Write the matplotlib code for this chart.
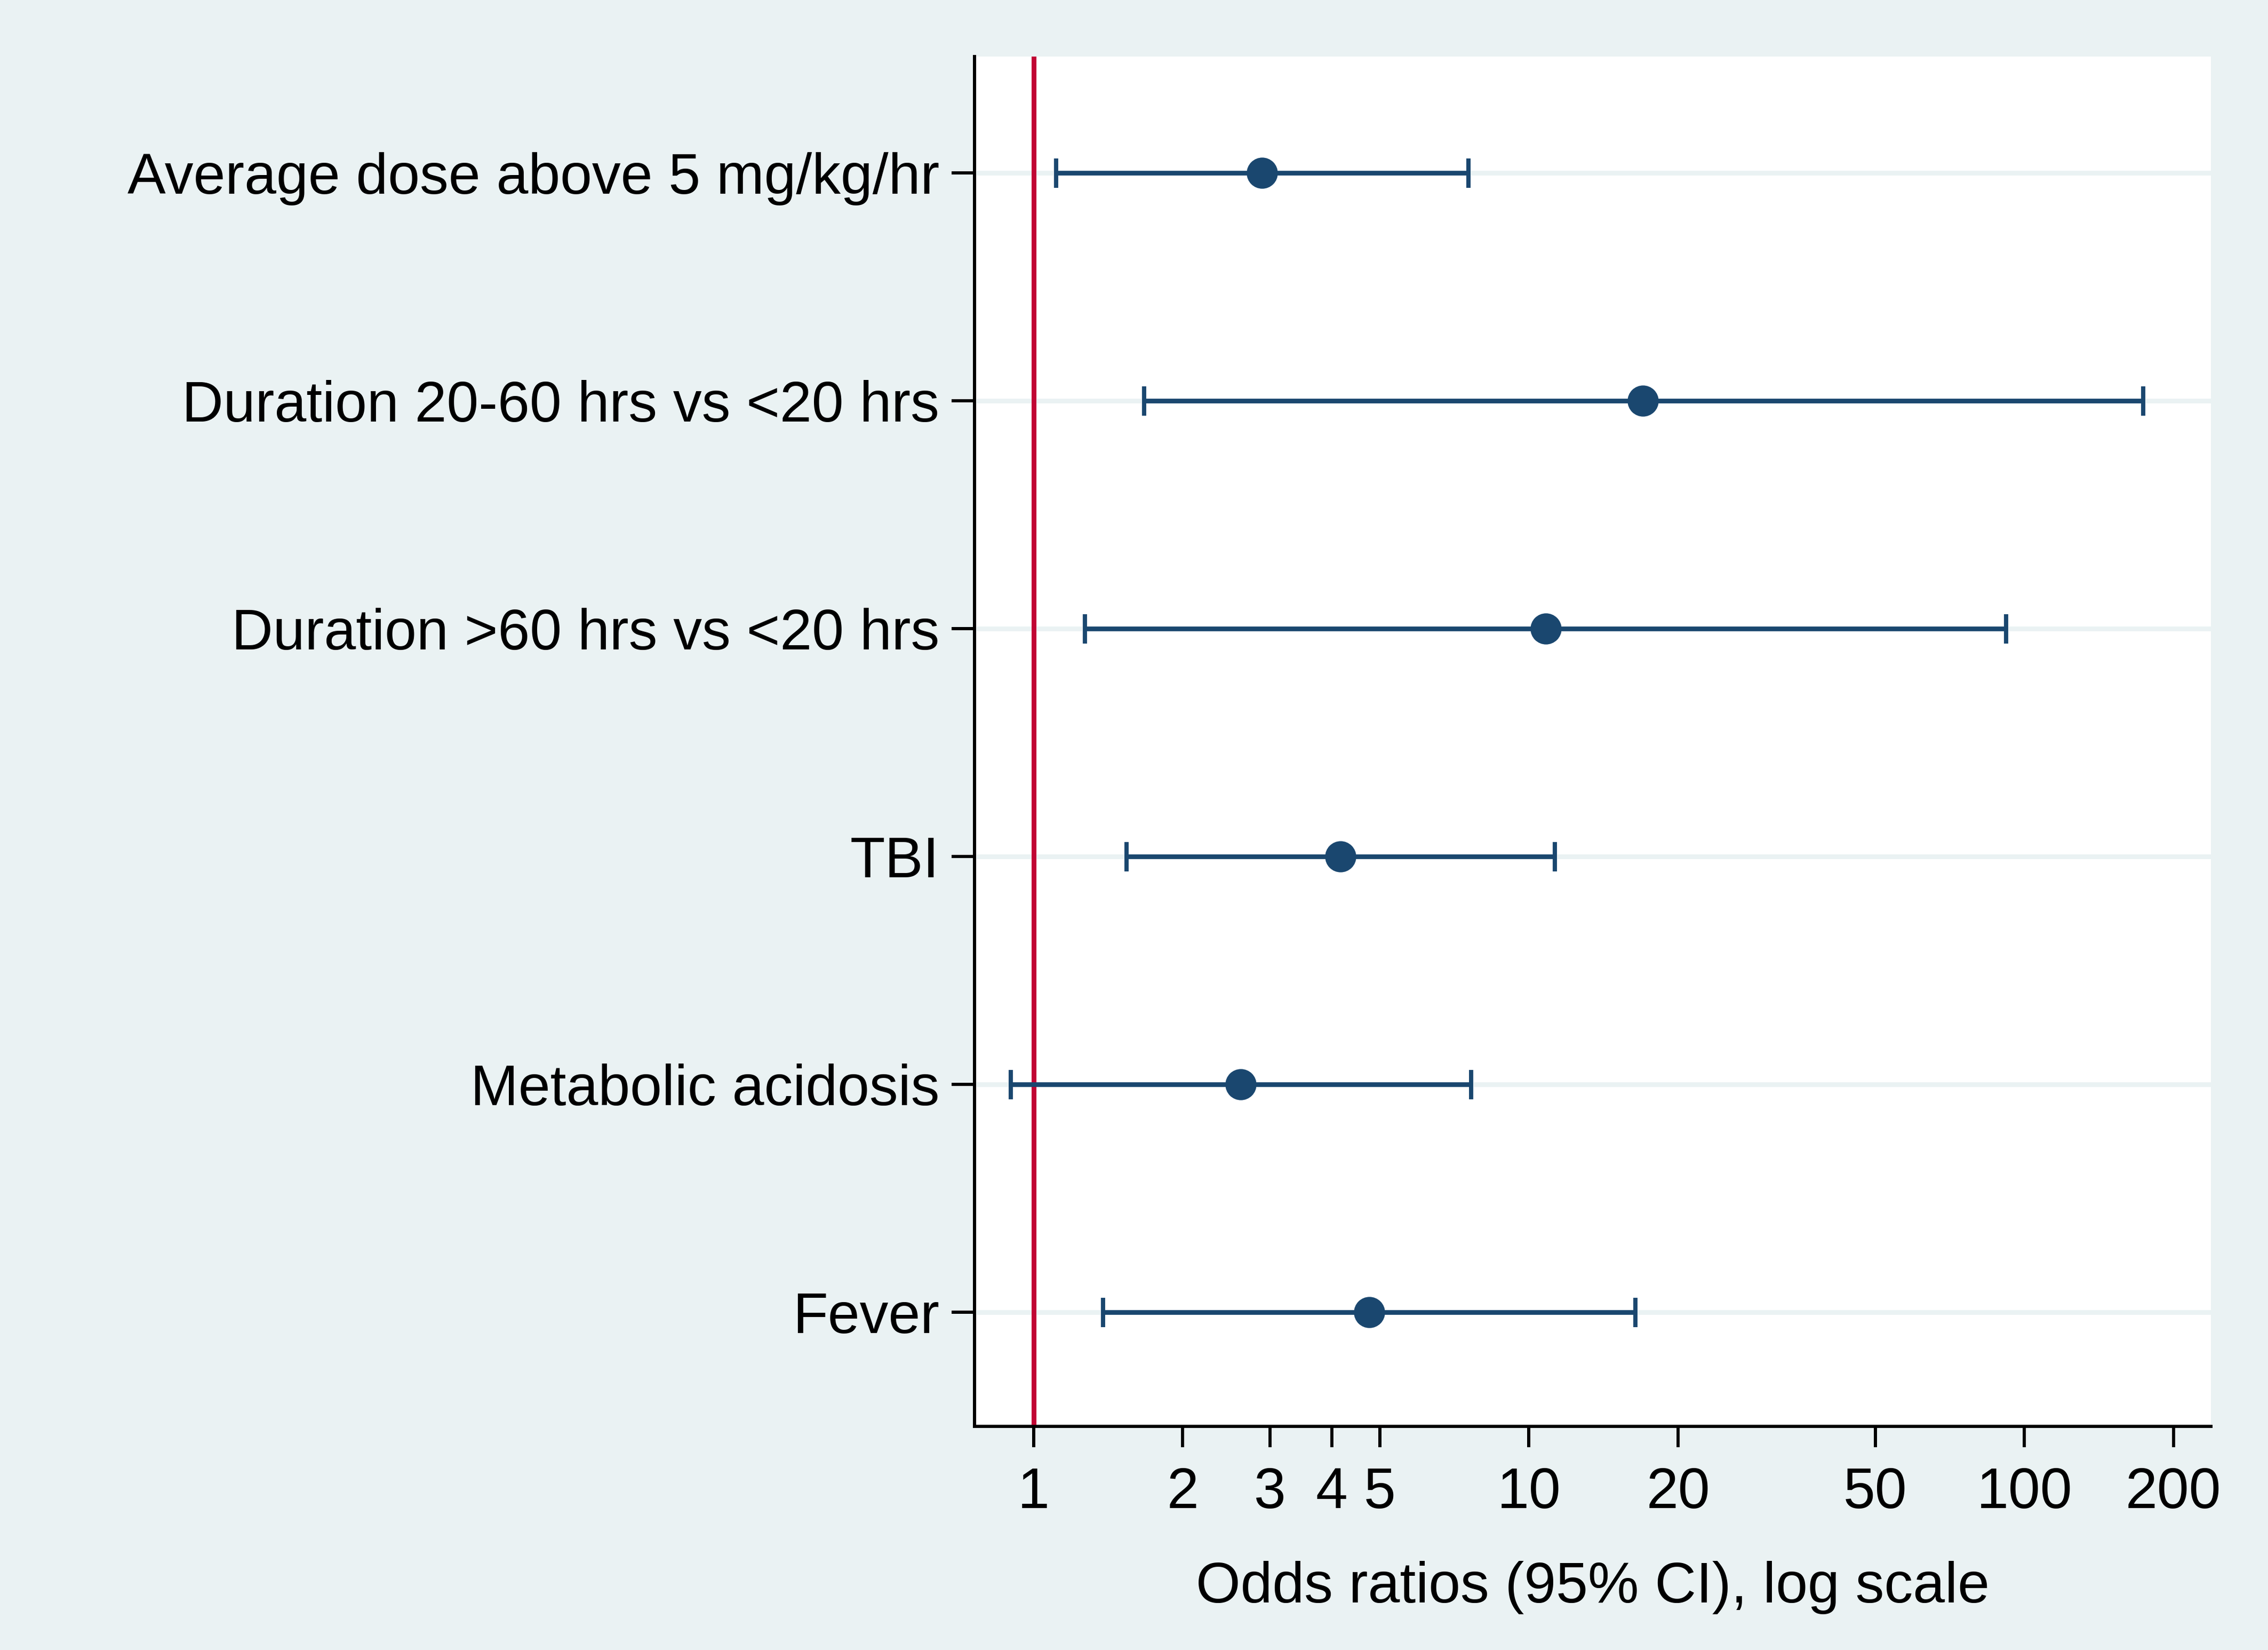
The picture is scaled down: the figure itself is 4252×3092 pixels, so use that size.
import matplotlib
matplotlib.use("Agg")
import matplotlib.pyplot as plt
from matplotlib.ticker import NullLocator, FixedLocator, FixedFormatter
import numpy as np

labels = ["Average dose above 5 mg/kg/hr",
          "Duration 20-60 hrs vs <20 hrs",
          "Duration >60 hrs vs <20 hrs",
          "TBI",
          "Metabolic acidosis",
          "Fever"]
odds = [2.89, 16.98, 10.81, 4.16, 2.62, 4.76]
ci_low = [1.11, 1.67, 1.27, 1.54, 0.90, 1.38]
ci_high = [7.54, 173.7, 91.9, 11.28, 7.64, 16.40]
xticks = [1, 2, 3, 4, 5, 10, 20, 50, 100, 200]
xticklabels = ["1", "2", "3", "4", "5", "10", "20", "50", "100", "200"]
xlabel = "Odds ratios (95% CI), log scale"
ref_value = 1

BG = "#EAF2F3"
NAVY = "#1A476F"
RED = "#C10534"

plt.rcParams['font.family'] = ['Liberation Sans', 'DejaVu Sans']

W, H, DPI = 4252, 3092, 300
fig = plt.figure(figsize=(W / DPI, H / DPI), dpi=DPI, facecolor=BG)
ax = fig.add_axes([1827 / W, 1 - 2673 / H, (4145 - 1827) / W, (2673 - 106) / H])
ax.set_facecolor("white")

ypos = np.arange(1, len(labels) + 1)
odds_a = np.array(odds)
lo_a = np.array(ci_low)
hi_a = np.array(ci_high)

ax.set_xscale("log")
ax.set_xlim(0.76, 238)
ax.set_ylim(6.5, 0.49)

ax.set_axisbelow(True)
ax.yaxis.grid(True, color=BG, lw=2.1)
ax.xaxis.grid(False)

ax.axvline(ref_value, color=RED, lw=2.15, zorder=2)

ax.errorbar(odds_a, ypos, xerr=[odds_a - lo_a, hi_a - odds_a], fmt="o",
            color=NAVY, ms=13, ecolor=NAVY, elinewidth=2.1, capsize=6.6,
            capthick=1.9, zorder=3)

ax.xaxis.set_major_locator(FixedLocator(xticks))
ax.xaxis.set_major_formatter(FixedFormatter(xticklabels))
ax.xaxis.set_minor_locator(NullLocator())
ax.set_yticks(ypos)
ax.set_yticklabels(labels)

FS = 25.8
ax.tick_params(axis="x", length=9.4, width=1.44, pad=8.5, labelsize=FS, colors="black")
ax.tick_params(axis="y", length=10.3, width=1.44, pad=5.5, labelsize=FS, colors="black")

for s in ["top", "right"]:
    ax.spines[s].set_visible(False)
for s in ["left", "bottom"]:
    ax.spines[s].set_linewidth(1.44)
    ax.spines[s].set_color("black")

ax.set_xlabel(xlabel, fontsize=FS, labelpad=18.5)

fig.savefig("out.png", dpi=DPI, facecolor=BG)
